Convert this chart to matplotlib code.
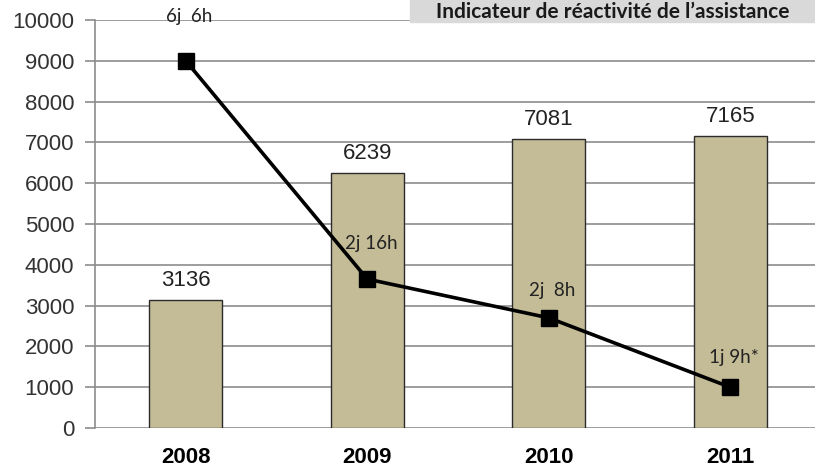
import matplotlib.pyplot as plt
from matplotlib.patches import Rectangle

years = ["2008", "2009", "2010", "2011"]
tickets = [3136, 6239, 7081, 7165]
delai = [9000, 3650, 2700, 1000]
delai_labels = ["6j  6h", "2j 16h", "2j  8h", "1j 9h*"]
label_offsets = [1080, 880, 680, 720]

fig = plt.figure(figsize=(8.15, 4.71), dpi=100)
ax = fig.add_axes([95 / 815, 1 - 428 / 471, 1 - 95 / 815, (428 - 20) / 471])

x = range(len(years))
ax.bar(x, tickets, width=0.4, color="#C4BC96", edgecolor="#2b2b2b", linewidth=1, zorder=2)
ax.plot(x, delai, color="black", linewidth=2.6, marker="s", markersize=11.5, zorder=3)

for i, v in enumerate(tickets):
    ax.text(i, v + 220, str(v), ha="center", va="bottom", fontsize=16,
            family="Liberation Sans", color="#222222")
for i, v in enumerate(delai):
    ax.text(i + 0.02, v + label_offsets[i], delai_labels[i], ha="center", va="center",
            fontsize=13.5, family="Lato", color="#222222", zorder=4)

ax.set_xlim(-0.5, 3.467)
ax.set_ylim(0, 10000)
ax.set_yticks(range(0, 10001, 1000))
ax.yaxis.grid(True, color="#8c8c8c", linewidth=1.2, zorder=0)
ax.set_axisbelow(True)
ax.set_xticks(list(x))
ax.set_xticklabels(years, fontsize=16, fontweight="bold", family="Liberation Sans")
ax.tick_params(axis="x", length=0, pad=14)
ax.tick_params(axis="y", length=7, color="#8c8c8c", width=1.2, labelsize=16, pad=8)
for lab in ax.get_yticklabels():
    lab.set_family("Liberation Sans")
    lab.set_color("#333333")
for s in ["top", "right", "bottom"]:
    ax.spines[s].set_visible(False)
ax.spines["left"].set_color("#8c8c8c")
ax.spines["left"].set_linewidth(1.2)

fig.patches.append(Rectangle((410 / 815, 1 - 22 / 471), 405 / 815, 22 / 471,
                             transform=fig.transFigure, color="#D9D9D9", zorder=5))
fig.text(613 / 815, 1 - 12 / 471, "Indicateur de réactivité de l’assistance", ha="center",
         va="center", fontsize=15, fontweight="bold", family="Lato", color="#1a1a1a", zorder=6)

fig.savefig("out.png", dpi=100)
